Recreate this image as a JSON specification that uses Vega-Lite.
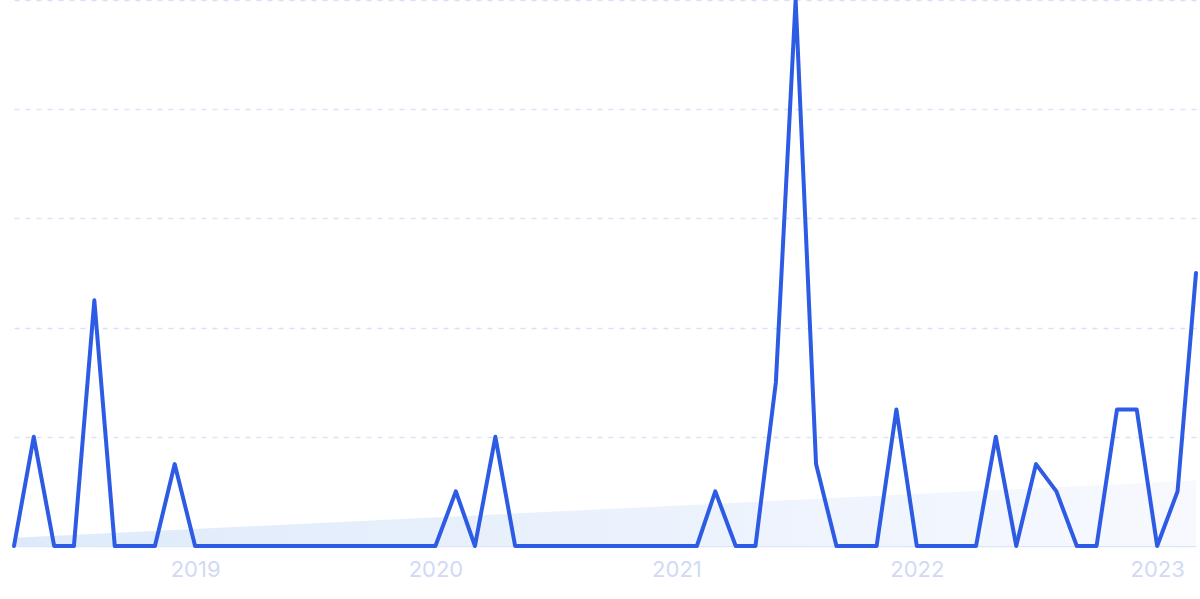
{
  "$schema": "https://vega.github.io/schema/vega-lite/v6.json",
  "width": 1182,
  "height": 546,
  "autosize": {"type": "none"},
  "padding": {"left": 14, "top": 0, "right": 4, "bottom": 53},
  "background": "white",
  "config": {"view": {"stroke": null}},
  "datasets": {
    "series": [
      {"month": "2018-04-01", "value": 0},
      {"month": "2018-05-01", "value": 20},
      {"month": "2018-06-01", "value": 0},
      {"month": "2018-07-01", "value": 0},
      {"month": "2018-08-01", "value": 45},
      {"month": "2018-09-01", "value": 0},
      {"month": "2018-10-01", "value": 0},
      {"month": "2018-11-01", "value": 0},
      {"month": "2018-12-01", "value": 15},
      {"month": "2019-01-01", "value": 0},
      {"month": "2019-02-01", "value": 0},
      {"month": "2019-03-01", "value": 0},
      {"month": "2019-04-01", "value": 0},
      {"month": "2019-05-01", "value": 0},
      {"month": "2019-06-01", "value": 0},
      {"month": "2019-07-01", "value": 0},
      {"month": "2019-08-01", "value": 0},
      {"month": "2019-09-01", "value": 0},
      {"month": "2019-10-01", "value": 0},
      {"month": "2019-11-01", "value": 0},
      {"month": "2019-12-01", "value": 0},
      {"month": "2020-01-01", "value": 0},
      {"month": "2020-02-01", "value": 10},
      {"month": "2020-03-01", "value": 0},
      {"month": "2020-04-01", "value": 20},
      {"month": "2020-05-01", "value": 0},
      {"month": "2020-06-01", "value": 0},
      {"month": "2020-07-01", "value": 0},
      {"month": "2020-08-01", "value": 0},
      {"month": "2020-09-01", "value": 0},
      {"month": "2020-10-01", "value": 0},
      {"month": "2020-11-01", "value": 0},
      {"month": "2020-12-01", "value": 0},
      {"month": "2021-01-01", "value": 0},
      {"month": "2021-02-01", "value": 0},
      {"month": "2021-03-01", "value": 10},
      {"month": "2021-04-01", "value": 0},
      {"month": "2021-05-01", "value": 0},
      {"month": "2021-06-01", "value": 30},
      {"month": "2021-07-01", "value": 100},
      {"month": "2021-08-01", "value": 15},
      {"month": "2021-09-01", "value": 0},
      {"month": "2021-10-01", "value": 0},
      {"month": "2021-11-01", "value": 0},
      {"month": "2021-12-01", "value": 25},
      {"month": "2022-01-01", "value": 0},
      {"month": "2022-02-01", "value": 0},
      {"month": "2022-03-01", "value": 0},
      {"month": "2022-04-01", "value": 0},
      {"month": "2022-05-01", "value": 20},
      {"month": "2022-06-01", "value": 0},
      {"month": "2022-07-01", "value": 15},
      {"month": "2022-08-01", "value": 10},
      {"month": "2022-09-01", "value": 0},
      {"month": "2022-10-01", "value": 0},
      {"month": "2022-11-01", "value": 25},
      {"month": "2022-12-01", "value": 25},
      {"month": "2023-01-01", "value": 0},
      {"month": "2023-02-01", "value": 10},
      {"month": "2023-03-01", "value": 50}
    ],
    "trend": [
      {"month": "2018-04-01", "value": 1.5},
      {"month": "2023-03-01", "value": 12}
    ]
  },
  "layer": [
    {
      "data": {"name": "trend"},
      "mark": {
        "type": "area",
        "color": {
          "gradient": "linear",
          "x1": 0, "x2": 1, "y1": 0, "y2": 0,
          "stops": [
            {"offset": 0, "color": "#deeafb"},
            {"offset": 1, "color": "#f7f9fe"}
          ]
        }
      },
      "encoding": {
        "x": {
          "field": "month",
          "type": "temporal",
          "scale": {"type": "utc", "nice": false},
          "axis": {
            "format": "%Y",
            "tickCount": {"interval": "year", "step": 1},
            "grid": false,
            "ticks": false,
            "domain": true,
            "domainColor": "#dce6f8",
            "domainWidth": 1.5,
            "labelColor": "#d0daf5",
            "labelFontSize": 22,
            "labelFont": "Inter",
            "labelPadding": 13,
            "title": null,
            "labelFlush": false
          }
        },
        "y": {
          "field": "value",
          "type": "quantitative",
          "scale": {"domain": [0, 100], "nice": false},
          "axis": {
            "values": [20, 40, 60, 80, 100],
            "grid": true,
            "gridColor": "#d8e2f8",
            "gridDash": [5, 6],
            "gridWidth": 1.5,
            "labels": false,
            "ticks": false,
            "domain": false,
            "title": null
          }
        }
      }
    },
    {
      "data": {"name": "series"},
      "mark": {
        "type": "line",
        "color": "#2d5be3",
        "strokeWidth": 4,
        "strokeJoin": "round",
        "strokeCap": "round"
      },
      "encoding": {
        "x": {"field": "month", "type": "temporal"},
        "y": {"field": "value", "type": "quantitative"}
      }
    }
  ]
}
